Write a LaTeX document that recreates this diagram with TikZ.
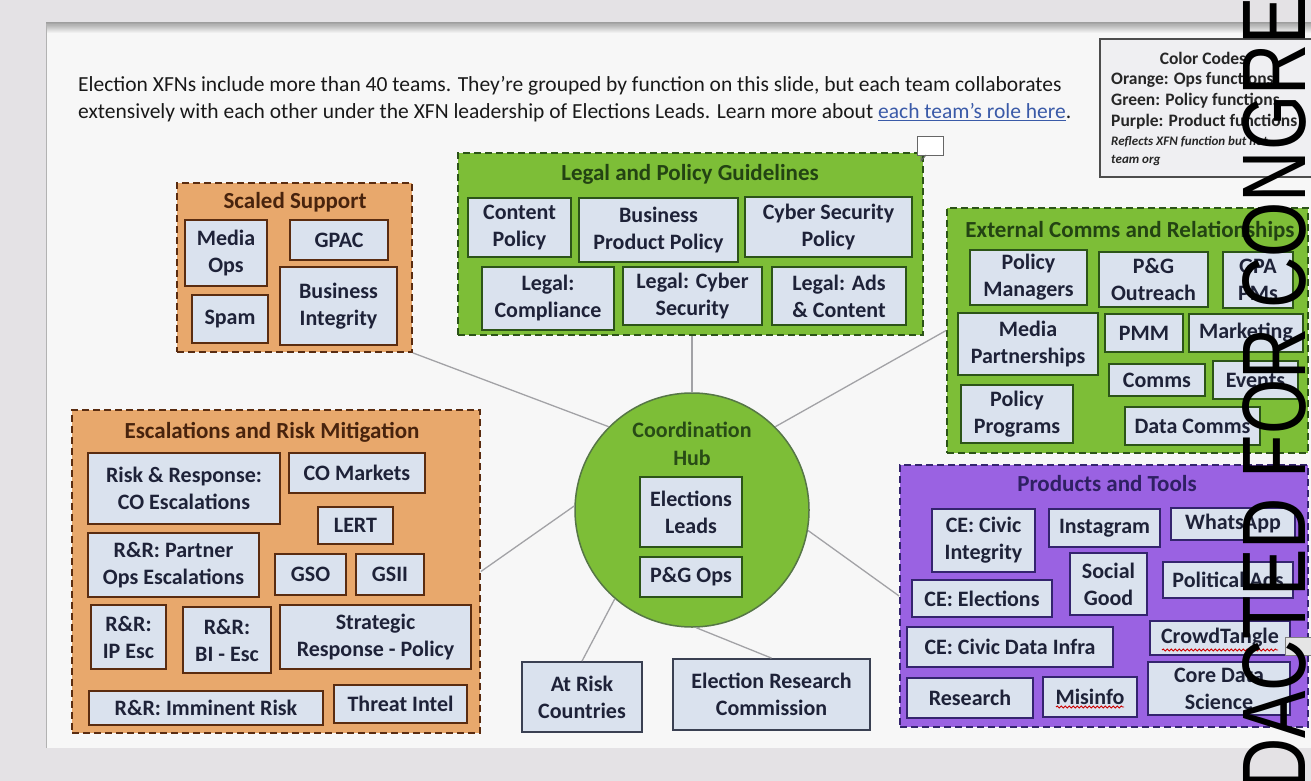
\documentclass[tikz,border=0pt]{standalone}
\usepackage{fontspec}
\setmainfont{Carlito}
\newfontfamily\wmfont{Liberation Sans}
\usetikzlibrary{decorations.pathmorphing}
\definecolor{bg}{HTML}{E4E2E5}
\definecolor{slide}{HTML}{F7F7F7}
\definecolor{orfill}{HTML}{E8A86C}
\definecolor{ordk}{HTML}{5A2C10}
\definecolor{grfill}{HTML}{7DBE37}
\definecolor{grdk}{HTML}{2C5418}
\definecolor{pufill}{HTML}{9A62E2}
\definecolor{pudk}{HTML}{34246E}
\definecolor{boxfill}{HTML}{DAE2EE}
\definecolor{txt}{HTML}{1E2238}
\definecolor{linkc}{HTML}{3A5AA8}
\definecolor{conn}{HTML}{A2A2A6}
\definecolor{slate}{HTML}{3A4052}
\definecolor{cc}{HTML}{EFEFF2}
\begin{document}
\begin{tikzpicture}[x=1pt,y=-1pt,
  grp/.style={draw, dash pattern=on 7pt off 4pt, line width=1.8pt, inner sep=0pt, rectangle},
  ibox/.style={draw, fill=boxfill, line width=1.8pt, inner sep=0pt, align=center, text=txt,
    font=\bfseries\fontsize{22}{27}\selectfont},
  obox/.style={ibox, draw=ordk},
  gbox/.style={ibox, draw=grdk},
  pbox/.style={ibox, draw=pudk},
  sbox/.style={ibox, draw=slate},
  ttl/.style={inner sep=0pt, font=\bfseries\fontsize{23}{27}\selectfont},
  ccl/.style={anchor=base west, inner sep=0pt, text=black!85, font=\bfseries\fontsize{17.5}{20}\selectfont},
  cci/.style={anchor=base west, inner sep=0pt, text=black!85, font=\bfseries\itshape\fontsize{13}{15}\selectfont},
  intro/.style={anchor=base west, inner sep=0pt, text=black!90, font=\fontsize{21.5}{27}\selectfont},
  link/.style={draw=conn, line width=1.3pt},
  spell/.style={draw=red!80!black, line width=0.9pt, decorate, decoration={snake, amplitude=1pt, segment length=4pt}}
]
\useasboundingbox (0,0) rectangle (1311,781);
\begin{scope}
\clip (0,0) rectangle (1311,781);
% background and slide
\fill[bg] (0,0) rectangle (1311,781);
\fill[slide] (46,25) rectangle (1311,748);
\shade[top color=black!35, bottom color=slide] (46,23) rectangle (1311,33);
\draw[black!30, line width=1pt] (46,748) -- (46,25) -- (1311,25);

% intro text
\node[intro] (intro1) at (78,92) {Election XFNs include more than 40 teams. They’re grouped by function on this slide, but each team collaborates};
\node[intro] (intro2) at (78,119) {extensively with each other under the XFN leadership of Elections Leads. Learn more about \textcolor{linkc}{\underline{each team’s role here}}.};

% colour code box
\node[draw=black!70, fill=cc, line width=1.5pt, minimum width=215, minimum height=138, inner sep=0pt] (ccbox) at (1207.5,108) {};
\node[ttl, font=\bfseries\fontsize{17.5}{20}\selectfont, text=black!85] (cct) at (1203,58) {Color Codes};
\node[ccl] (cc1) at (1111,85) {Orange: Ops functions};
\node[ccl] (cc2) at (1111,106) {Green: Policy functions};
\node[ccl] (cc3) at (1111,127) {Purple: Product functions};
\node[cci] (cc4) at (1111,146) {Reflects XFN function but not};
\node[cci] (cc5) at (1111,163) {team org};

% groups and hub
\node[circle, fill=grfill, draw=grdk!80, line width=1.5pt, minimum size=234, inner sep=0pt] (hub) at (692,510) {};
\node[grp, draw=ordk, fill=orfill, minimum width=235, minimum height=169] (scaled) at (294.5,267.5) {};
\node[grp, draw=grdk, fill=grfill, minimum width=465, minimum height=182] (legal) at (690.5,244) {};
\node[grp, draw=grdk, fill=grfill, minimum width=361, minimum height=245] (ext) at (1127.5,330.5) {};
\node[grp, draw=pudk, fill=pufill, minimum width=408, minimum height=262] (prod) at (1104,596) {};
\node[grp, draw=ordk, fill=orfill, minimum width=408, minimum height=323] (esc) at (276,571.5) {};
\node[sbox, minimum width=120, minimum height=70] (atrisk) at (582,697) {At Risk\\Countries};
\node[sbox, minimum width=197, minimum height=71] (erc) at (771.5,694.5) {Election Research\\Commission};

% connectors
\draw[link] (scaled.south east) -- (hub.135);
\draw[link] (hub.north) -- (hub.north |- legal.south);
\draw[link] (hub.45) -- (ext.west);
\draw[link] (hub.178) -- (esc.east);
\draw[link] (hub.-10) -- (prod.west);
\draw[link] (hub.229) -- (atrisk.north);
\draw[link] (hub.272) -- (erc.north);

% hub contents
\node[inner sep=0pt, align=center, text=grdk!90!black, font=\bfseries\fontsize{22}{28}\selectfont] (hubt) at (692,444) {Coordination\\Hub};
\node[gbox, minimum width=102, minimum height=70] (leads) at (691,512) {Elections\\Leads};
\node[gbox, minimum width=102, minimum height=40] (pgops) at (691,577) {P\&G Ops};

% Scaled Support
\node[ttl, text=ordk!80!black] (sst) at (295,202) {Scaled Support};
\node[obox, minimum width=82, minimum height=66] (mediaops) at (226,253) {Media\\Ops};
\node[obox, minimum width=98, minimum height=40] (gpac) at (339,240) {GPAC};
\node[obox, minimum width=76, minimum height=48] (spam) at (230,319) {Spam};
\node[obox, minimum width=117, minimum height=78] (bizint) at (338.5,306) {Business\\Integrity};

% Legal and Policy
\node[ttl, text=grdk!80!black] (lpt) at (690,174) {Legal and Policy Guidelines};
\node[gbox, minimum width=103, minimum height=59] (cpol) at (519.5,227.5) {Content\\Policy};
\node[gbox, minimum width=159, minimum height=64] (bpp) at (658.5,230) {Business\\Product Policy};
\node[gbox, minimum width=167, minimum height=60] (csp) at (828.5,227) {Cyber Security\\Policy};
\node[gbox, minimum width=132, minimum height=63] (lcomp) at (548,298.5) {Legal:\\Compliance};
\node[gbox, minimum width=139, minimum height=58] (lcyb) at (692.5,296) {Legal: Cyber\\Security};
\node[gbox, minimum width=134, minimum height=58] (lads) at (839,296) {Legal: Ads\\\& Content};

% External comms
\node[ttl, text=grdk!80!black] (ect) at (1130,231) {External Comms and Relationships};
\node[gbox, minimum width=117, minimum height=55] (polman) at (1028.5,277.5) {Policy\\Managers};
\node[gbox, minimum width=109, minimum height=55] (pgout) at (1153.5,279.5) {P\&G\\Outreach};
\node[gbox, minimum width=70, minimum height=56] (gpapm) at (1258,280) {GPA\\PMs};
\node[gbox, minimum width=140, minimum height=62] (medpart) at (1028,344) {Media\\Partnerships};
\node[gbox, minimum width=78, minimum height=38] (pmm) at (1144,333) {PMM};
\node[gbox, minimum width=114, minimum height=38] (mkt) at (1246,333) {Marketing};
\node[gbox, minimum width=96, minimum height=32] (comms) at (1157,380) {Comms};
\node[gbox, minimum width=85, minimum height=38] (events) at (1255.5,380) {Events};
\node[gbox, minimum width=112, minimum height=58] (polprog) at (1017,414) {Policy\\Programs};
\node[gbox, minimum width=135, minimum height=38] (datacomms) at (1192.5,426) {Data Comms};

% Products and Tools
\node[ttl, text=pudk!90!black] (ptt) at (1107,484) {Products and Tools};
\node[pbox, minimum width=103, minimum height=63] (ceci) at (983.5,540.5) {CE: Civic\\Integrity};
\node[pbox, minimum width=111, minimum height=38] (insta) at (1104.5,528) {Instagram};
\node[pbox, minimum width=124, minimum height=32] (whats) at (1233,524) {WhatsApp};
\node[pbox, minimum width=77, minimum height=62] (social) at (1108.5,584) {Social\\Good};
\node[pbox, minimum width=130, minimum height=36] (polads) at (1228,580) {Political Ads};
\node[pbox, minimum width=140, minimum height=37] (ceel) at (982,598.5) {CE: Elections};
\node[pbox, minimum width=206, minimum height=40] (cedata) at (1010,647) {CE: Civic Data Infra};
\node[pbox, minimum width=140, minimum height=34] (crowd) at (1220,638) {CrowdTangle};
\node[pbox, minimum width=126, minimum height=40] (research) at (970,698) {Research};
\node[pbox, minimum width=94, minimum height=40] (misinfo) at (1090,697) {Misinfo};
\node[pbox, minimum width=142, minimum height=53] (cds) at (1219,688.5) {Core Data\\Science};
\draw[spell] (1162,650) -- (1278,650);
\draw[spell] (1056,707) -- (1124,707);

% Escalations
\node[ttl, text=ordk!80!black] (ert) at (272,432) {Escalations and Risk Mitigation};
\node[obox, minimum width=192, minimum height=71] (rrco) at (184,488.5) {Risk \& Response:\\CO Escalations};
\node[obox, minimum width=136, minimum height=40] (comk) at (357,473) {CO Markets};
\node[obox, minimum width=75, minimum height=37] (lert) at (355.5,525.5) {LERT};
\node[obox, minimum width=171, minimum height=64] (rrpart) at (173.5,565) {R\&R: Partner\\Ops Escalations};
\node[obox, minimum width=71, minimum height=41] (gso) at (310.5,574.5) {GSO};
\node[obox, minimum width=68, minimum height=41] (gsii) at (390,574.5) {GSII};
\node[obox, minimum width=75, minimum height=64] (rrip) at (128.5,637) {R\&R:\\IP Esc};
\node[obox, minimum width=88, minimum height=66] (rrbi) at (227,640) {R\&R:\\BI - Esc};
\node[obox, minimum width=191, minimum height=64] (srp) at (375.5,637) {Strategic\\Response - Policy};
\node[obox, minimum width=234, minimum height=34] (rrim) at (206,708) {R\&R: Imminent Risk};
\node[obox, minimum width=133, minimum height=38] (threat) at (400.5,704) {Threat Intel};

% comment markers
\draw[black!60, fill=white, line width=1pt] (917,137) rectangle (943,155);
\draw[black!60, line width=1pt] (921,155) -- (921,161) -- (926,155);
\draw[black!50, fill=black!10, line width=1pt] (1285,637) rectangle (1311,655);

% watermark
\node[rotate=90, yscale=1.27, anchor=base west, inner sep=0pt, text=black, font=\wmfont\fontsize{71}{71}\selectfont] (wmark) at (1305,790) {DACTED FOR CONGRE};
\end{scope}
\end{tikzpicture}
\end{document}
